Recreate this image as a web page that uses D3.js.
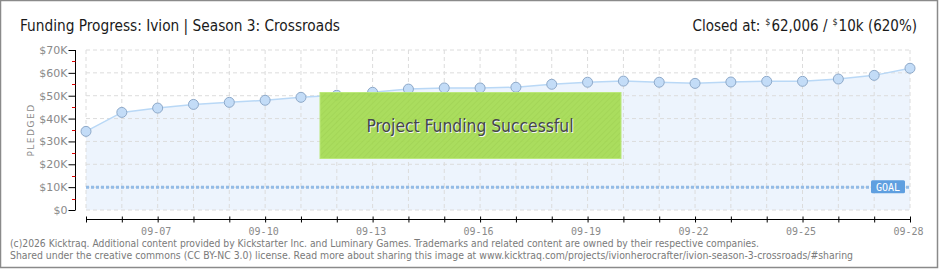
<!DOCTYPE html>
<html>
<head>
<meta charset="utf-8">
<script src="https://cdnjs.cloudflare.com/ajax/libs/d3/7.8.5/d3.min.js"></script>
<style>
  body { margin: 0; background: #fff; }
  svg { display: block; }
</style>
</head>
<body>
<div class="area"></div>
<script>
var days = ['09-05', '09-06', '09-07', '09-08', '09-09', '09-10', '09-11', '09-12', '09-13', '09-14', '09-15', '09-16',
  '09-17', '09-18', '09-19', '09-20', '09-21', '09-22', '09-23', '09-24', '09-25', '09-26', '09-27', '09-28'];
var pledged = [34400, 42700, 44600, 46200, 47100, 48000, 49300, 50200, 51500, 52900, 53400, 53400,
  53700, 55000, 55900, 56400, 55900, 55400, 56000, 56300, 56300, 57300, 58900, 62006];
var goal = 10000;
var y_ticks = [0, 10000, 20000, 30000, 40000, 50000, 60000, 70000];
var y_labels = ['$0', '$10K', '$20K', '$30K', '$40K', '$50K', '$60K', '$70K'];
var x_labels = ['09-07', '09-10', '09-13', '09-16', '09-19', '09-22', '09-25', '09-28'];

var parse = d3.timeParse('%Y-%m-%d');
var toDate = function (s) { return parse('2025-' + s); };

var svg = d3.select('.area')
    .append('svg')
    .attr('width', 940)
    .attr('height', 270);

// outer frame
svg.append('rect')
    .attr('x', 0.5).attr('y', 0.5)
    .attr('width', 937).attr('height', 267)
    .attr('fill', '#fff')
    .attr('stroke', '#8a8a8a')
    .attr('stroke-width', 1.5);

var x = d3.scaleTime()
    .domain([toDate(days[0]), toDate(days[days.length - 1])])
    .range([86, 910]);
var y = d3.scaleLinear()
    .domain([0, 70000])
    .range([210, 50]);

// stripes for the success banner
var defs = svg.append('defs');
var pat = defs.append('pattern')
    .attr('id', 'stripes')
    .attr('width', 4).attr('height', 4)
    .attr('patternUnits', 'userSpaceOnUse')
    .attr('patternTransform', 'rotate(45)');
pat.append('rect').attr('width', 4).attr('height', 4).attr('fill', '#a6dc52');
pat.append('line').attr('x1', 0).attr('y1', 0).attr('x2', 0).attr('y2', 4)
    .attr('stroke', '#9bd24a').attr('stroke-width', 1.5);

// area under the line
var pts = days.map(function (d, i) { return { date: toDate(d), v: pledged[i] }; });
svg.append('path')
    .datum(pts)
    .attr('d', d3.area().x(function (d) { return x(d.date); }).y0(y(0)).y1(function (d) { return y(d.v); }))
    .attr('fill', '#edf4fd');

// grid
svg.append('g')
    .selectAll('line')
    .data(days)
    .join('line')
    .attr('x1', function (d) { return x(toDate(d)); })
    .attr('x2', function (d) { return x(toDate(d)); })
    .attr('y1', y(70000)).attr('y2', y(0))
    .attr('stroke', '#dcdcdc')
    .attr('stroke-dasharray', '4,3');
svg.append('g')
    .selectAll('line')
    .data(y_ticks)
    .join('line')
    .attr('x1', x(toDate(days[0]))).attr('x2', x(toDate(days[days.length - 1])))
    .attr('y1', function (d) { return y(d); })
    .attr('y2', function (d) { return y(d); })
    .attr('stroke', '#dcdcdc')
    .attr('stroke-dasharray', '4,3');

// goal line
svg.append('line')
    .attr('x1', x(toDate(days[0]))).attr('x2', x(toDate(days[days.length - 1])))
    .attr('y1', y(goal)).attr('y2', y(goal))
    .attr('stroke', '#93bbe6')
    .attr('stroke-width', 3)
    .attr('stroke-dasharray', '3,2');

// pledged line
svg.append('path')
    .datum(pts)
    .attr('d', d3.line().x(function (d) { return x(d.date); }).y(function (d) { return y(d.v); }))
    .attr('fill', 'none')
    .attr('stroke', '#b9d8f6')
    .attr('stroke-width', 1.5);

svg.append('g')
    .selectAll('circle')
    .data(pts)
    .join('circle')
    .attr('cx', function (d) { return x(d.date); })
    .attr('cy', function (d) { return y(d.v); })
    .attr('r', 5)
    .attr('fill', '#c3dcf7')
    .attr('stroke', '#8ea9c9')
    .attr('stroke-width', 1);

// GOAL tag
svg.append('rect')
    .attr('x', 871).attr('y', y(goal) - 7)
    .attr('width', 34).attr('height', 13)
    .attr('rx', 1.5)
    .attr('fill', '#5f9fe0');
svg.append('text')
    .attr('x', 888).attr('y', y(goal) + 3.5)
    .attr('text-anchor', 'middle')
    .attr('font-family', 'DejaVu Sans Mono')
    .attr('font-size', '10px')
    .attr('fill', '#fff')
    .text('GOAL');

// success banner
svg.append('rect')
    .attr('x', 320).attr('y', 92.5)
    .attr('width', 301).attr('height', 66)
    .attr('fill', 'url(#stripes)')
    .attr('stroke', '#b8e872')
    .attr('stroke-width', 1)
    .attr('opacity', 0.93);
svg.append('text')
    .attr('x', 471).attr('y', 133)
    .attr('text-anchor', 'middle')
    .attr('font-family', 'DejaVu Sans')
    .style('font-stretch', 'condensed')
    .attr('font-size', '17px')
    .attr('fill', '#f4f4f4')
    .attr('textLength', 207)
    .attr('lengthAdjust', 'spacingAndGlyphs')
    .text('Project Funding Successful');
svg.append('text')
    .attr('x', 470).attr('y', 132)
    .attr('text-anchor', 'middle')
    .attr('font-family', 'DejaVu Sans')
    .style('font-stretch', 'condensed')
    .attr('font-size', '17px')
    .attr('fill', '#45464a')
    .attr('textLength', 207)
    .attr('lengthAdjust', 'spacingAndGlyphs')
    .text('Project Funding Successful');

// y axis
var yAxis = svg.append('g')
    .attr('transform', 'translate(75.5,0)')
    .call(d3.axisLeft(y).tickValues(y_ticks).tickSize(7).tickFormat(function (d, i) { return y_labels[i]; }));
yAxis.select('.domain').attr('stroke', '#000').attr('d', 'M0,' + y(70000) + 'V' + y(0));
yAxis.selectAll('.tick line').attr('stroke', '#000');
yAxis.selectAll('.tick text')
    .attr('x', -8)
    .attr('fill', '#8a8a8a')
    .attr('font-family', 'DejaVu Sans')
    .attr('font-size', '11px');
// red minor ticks
svg.append('g')
    .selectAll('line')
    .data(y_ticks.slice(0, -1))
    .join('line')
    .attr('x1', 72).attr('x2', 75.5)
    .attr('y1', function (d) { return Math.round(y(d + 5000)) + 0.5; })
    .attr('y2', function (d) { return Math.round(y(d + 5000)) + 0.5; })
    .attr('stroke', '#e00000');

svg.append('text')
    .attr('transform', 'translate(34,130) rotate(-90)')
    .attr('text-anchor', 'middle')
    .attr('font-family', 'DejaVu Sans')
    .attr('font-size', '9px')
    .attr('letter-spacing', '1.5px')
    .attr('fill', '#8a8a8a')
    .text('PLEDGED');

// x axis
var xAxis = svg.append('g')
    .attr('transform', 'translate(0,219.5)')
    .call(d3.axisBottom(x).tickValues(days.map(toDate)).tickSize(3)
        .tickFormat(function (d) { var s = d3.timeFormat('%m-%d')(d); return x_labels.indexOf(s) >= 0 ? s : ''; }));
xAxis.select('.domain').attr('stroke', '#000').attr('d', 'M86,0H910');
xAxis.selectAll('.tick line').attr('stroke', '#000').attr('y1', -3).attr('y2', 3);
xAxis.selectAll('.tick text')
    .attr('y', 8)
    .attr('dx', -2)
    .attr('fill', '#8a8a8a')
    .attr('font-family', 'DejaVu Sans Mono')
    .attr('font-size', '10px');

// headings
svg.append('text')
    .attr('x', 20).attr('y', 31)
    .attr('font-family', 'DejaVu Sans')
    .style('font-stretch', 'condensed')
    .attr('font-size', '16px')
    .attr('fill', '#1a1a1a')
    .attr('textLength', 320)
    .attr('lengthAdjust', 'spacingAndGlyphs')
    .text('Funding Progress: Ivion | Season 3: Crossroads');

// "Closed at" line, laid out right to left as separate pieces
var closed_parts = [
  { t: 'Closed at:', size: 15, dy: 0, gap: 0 },
  { t: '$', size: 9, dy: -6, gap: 5 },
  { t: '62,006 /', size: 15, dy: 0, gap: 1 },
  { t: '$', size: 9, dy: -6, gap: 5 },
  { t: '10k (620%)', size: 15, dy: 0, gap: 1 }
];
var cx = 917;
for (var i = closed_parts.length - 1; i >= 0; i--) {
    var p = closed_parts[i];
    var t = svg.append('text')
        .attr('x', cx).attr('y', 31 + p.dy)
        .attr('text-anchor', 'end')
        .attr('font-family', 'DejaVu Sans')
        .style('font-stretch', 'condensed')
        .attr('font-size', p.size + 'px')
        .attr('fill', '#1a1a1a')
        .text(p.t);
    cx = cx - t.node().getComputedTextLength() - p.gap;
}

// footer
svg.append('text')
    .attr('x', 10).attr('y', 247)
    .attr('font-family', 'DejaVu Sans')
    .attr('font-size', '10px')
    .attr('fill', '#7a7a7a')
    .attr('textLength', 749)
    .attr('lengthAdjust', 'spacingAndGlyphs')
    .text('(c)2026 Kicktraq. Additional content provided by Kickstarter Inc. and Luminary Games. Trademarks and related content are owned by their respective companies.');
svg.append('text')
    .attr('x', 10).attr('y', 259)
    .attr('font-family', 'DejaVu Sans')
    .attr('font-size', '10px')
    .attr('fill', '#7a7a7a')
    .attr('textLength', 843)
    .attr('lengthAdjust', 'spacingAndGlyphs')
    .text('Shared under the creative commons (CC BY-NC 3.0) license. Read more about sharing this image at www.kicktraq.com/projects/ivionherocrafter/ivion-season-3-crossroads/#sharing');
</script>
</body>
</html>
